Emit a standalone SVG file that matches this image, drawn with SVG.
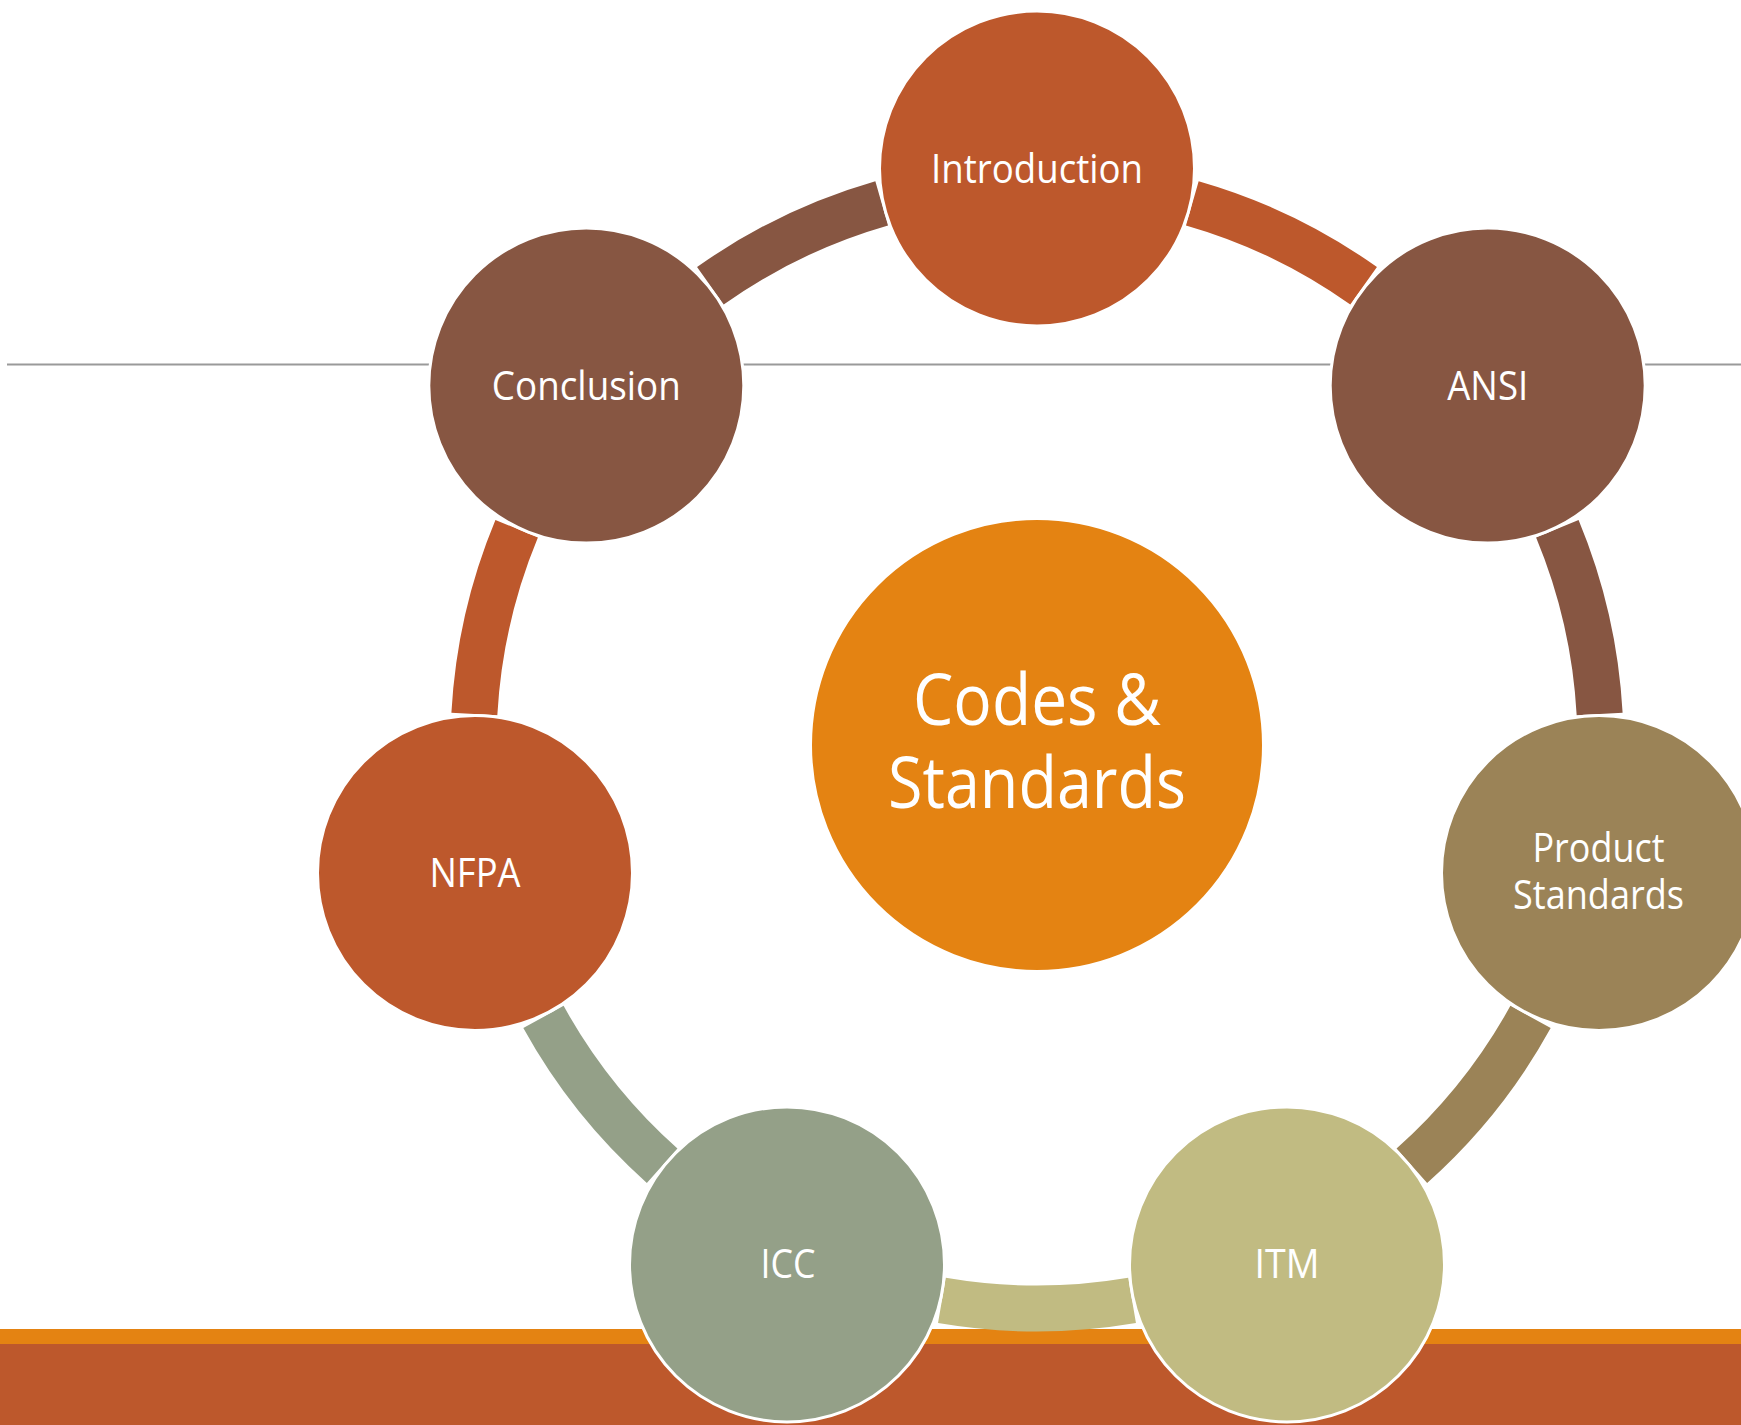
<svg xmlns="http://www.w3.org/2000/svg" width="1741" height="1425" viewBox="0 0 1741 1425">
<style>
.node{stroke:#fff;stroke-width:3}
.lbl{font-family:"Open Sans","Noto Sans",sans-serif;fill:#fff;font-size:40px;text-anchor:middle}
.big{font-size:71px}
.arc{fill:none;stroke-width:46;stroke-linecap:butt}
</style>
<rect width="1741" height="1425" fill="#fff"/>
<line x1="7" y1="364.5" x2="1741" y2="364.5" stroke="#9a9a9a" stroke-width="2"/>
<rect x="0" y="1329" width="1741" height="15" fill="#E48312"/>
<rect x="0" y="1344" width="1741" height="81" fill="#BD582C"/>
<g id="connectors">
<path class="arc" stroke="#BD582C" d="M1192.32 203.33 A563.5 563.5 0 0 1 1363.62 285.8"/>
<path class="arc" stroke="#875642" d="M1557.34 528.72 A563.5 563.5 0 0 1 1599.65 714.1"/>
<path class="arc" stroke="#9B8357" d="M1530.54 1016.96 A563.5 563.5 0 0 1 1411.86 1165.73"/>
<path class="arc" stroke="#C1BB82" d="M1132.08 1300.42 A563.5 563.5 0 0 1 941.92 1300.42"/>
<path class="arc" stroke="#94A088" d="M662.14 1165.73 A563.5 563.5 0 0 1 543.46 1016.96"/>
<path class="arc" stroke="#BD582C" d="M474.35 714.1 A563.5 563.5 0 0 1 516.66 528.72"/>
<path class="arc" stroke="#875642" d="M710.38 285.8 A563.5 563.5 0 0 1 881.68 203.33"/>
</g>
<g id="center">
<circle class="node" cx="1037" cy="745" r="226.5" fill="#E48312"/>
<text class="lbl big" x="1037" y="725" textLength="248" lengthAdjust="spacingAndGlyphs">Codes &amp;</text>
<text class="lbl big" x="1037" y="808" textLength="298" lengthAdjust="spacingAndGlyphs">Standards</text>
</g>
<g id="introduction">
<circle class="node" cx="1037" cy="168.5" r="157.5" fill="#BD582C"/>
<text class="lbl" x="1037" y="182.5" textLength="212" lengthAdjust="spacingAndGlyphs">Introduction</text>
</g>
<g id="ansi">
<circle class="node" cx="1487.7" cy="385.6" r="157.5" fill="#875642"/>
<text class="lbl" x="1487.7" y="399.5" textLength="81" lengthAdjust="spacingAndGlyphs">ANSI</text>
</g>
<g id="product-standards">
<circle class="node" cx="1599" cy="873" r="157.5" fill="#9B8357"/>
<text class="lbl" x="1598.5" y="862" textLength="132" lengthAdjust="spacingAndGlyphs">Product</text>
<text class="lbl" x="1598.5" y="909" textLength="171" lengthAdjust="spacingAndGlyphs">Standards</text>
</g>
<g id="itm">
<circle class="node" cx="1287" cy="1264.4" r="157.5" fill="#C1BB82"/>
<text class="lbl" x="1287" y="1278" textLength="65" lengthAdjust="spacingAndGlyphs">ITM</text>
</g>
<g id="icc">
<circle class="node" cx="787" cy="1264.4" r="157.5" fill="#94A088"/>
<text class="lbl" x="788" y="1278" textLength="55" lengthAdjust="spacingAndGlyphs">ICC</text>
</g>
<g id="nfpa">
<circle class="node" cx="475" cy="873" r="157.5" fill="#BD582C"/>
<text class="lbl" x="475" y="886.5" textLength="91" lengthAdjust="spacingAndGlyphs">NFPA</text>
</g>
<g id="conclusion">
<circle class="node" cx="586.3" cy="385.6" r="157.5" fill="#875642"/>
<text class="lbl" x="586.3" y="399.5" textLength="189" lengthAdjust="spacingAndGlyphs">Conclusion</text>
</g>
</svg>
